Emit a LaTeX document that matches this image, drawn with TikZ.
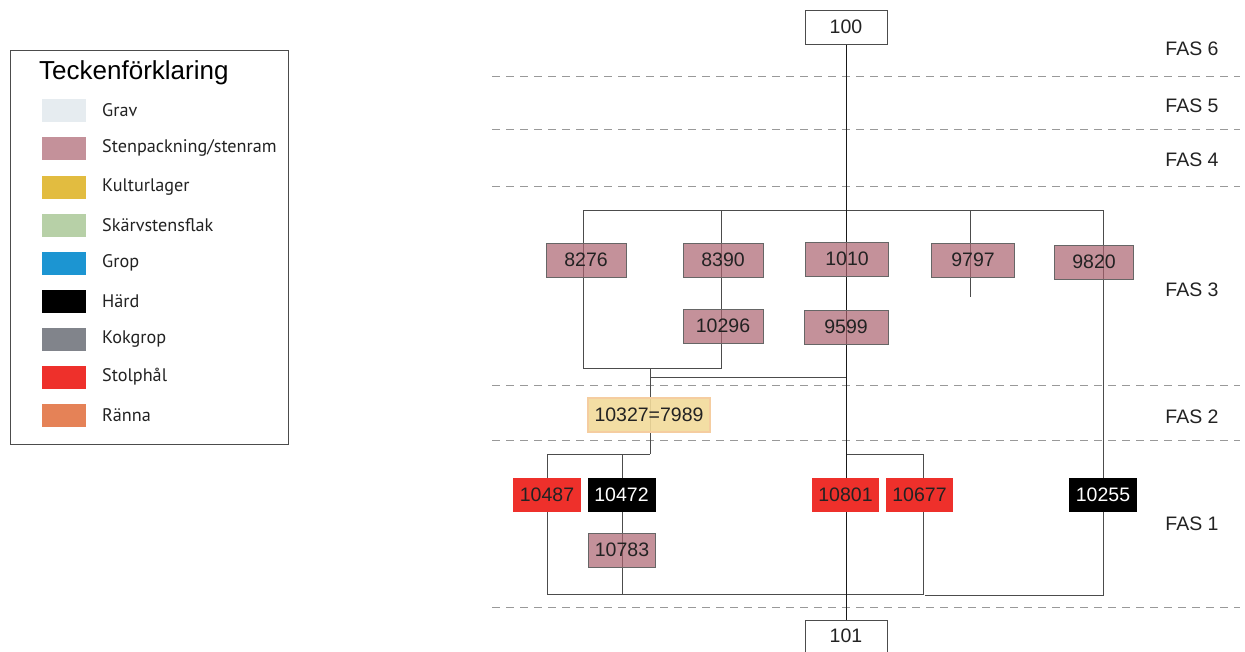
\documentclass[tikz,border=0pt]{standalone}
\usepackage{fontspec}
\setmainfont{Liberation Sans}
\newfontfamily\legfont{PT Sans}
\definecolor{pinkc}{HTML}{C4919A}
\definecolor{pinkd}{HTML}{AB626F}
\definecolor{gravc}{HTML}{E6ECF0}
\definecolor{kultc}{HTML}{E2BC40}
\definecolor{skarvc}{HTML}{B7D0A7}
\definecolor{gropc}{HTML}{1C95D2}
\definecolor{kokc}{HTML}{81848B}
\definecolor{redc}{HTML}{EE302B}
\definecolor{rannac}{HTML}{E58257}
\definecolor{yelc}{HTML}{F2DA9A}
\definecolor{yelb}{HTML}{F5CDA0}
\definecolor{txtc}{HTML}{222222}
\begin{document}
\begin{tikzpicture}[x=1pt,y=-1pt,
  conn/.style={draw=black!70,line width=1pt},
  mainln/.style={draw=black!90,line width=1pt},
  phase/.style={draw=black!40,line width=1pt,dash pattern=on 8pt off 6pt},
  base/.style={font=\fontsize{19.5}{22}\selectfont,text=txtc,inner sep=0pt,minimum height=34pt,anchor=center},
  wbox/.style={base,draw=black!70,fill=white,line width=1pt,minimum width=82pt},
  pbox/.style={base,draw=black!60,line width=1pt,fill=pinkd,fill opacity=0.7,text opacity=1,minimum width=80pt},
  ybox/.style={base,draw=yelb,line width=1.5pt,fill=yelc,fill opacity=0.9,text opacity=1,minimum width=122pt},
  rbox/.style={base,fill=redc,minimum width=68pt},
  kbox/.style={base,fill=black,text=white,minimum width=68pt},
  fas/.style={font=\fontsize{19.5}{22}\selectfont,text=txtc,anchor=center},
  swatch/.style={minimum width=44pt,minimum height=23pt,inner sep=0pt,anchor=west},
  leglab/.style={font=\legfont\fontsize{18.2}{21}\selectfont,text=txtc,anchor=west,inner sep=0pt}
]
\useasboundingbox (0,0) rectangle (1245,651);

% phase lines
\foreach \yy/\nm in {76/a,129/b,186/c,385/d,440/e,607/f}{
  \coordinate (pl\nm) at (492,\yy);
  \coordinate (pr\nm) at (1240,\yy);
  \draw[phase] (pl\nm) -- (pr\nm);
}
\node[fas] (f6) at (1192,49) {FAS 6};
\node[fas] (f5) at (1192,106) {FAS 5};
\node[fas] (f4) at (1192,160) {FAS 4};
\node[fas] (f3) at (1192,290) {FAS 3};
\node[fas] (f2) at (1192,417) {FAS 2};
\node[fas] (f1) at (1192,524) {FAS 1};

% connector coordinates
\coordinate (tL) at (583,210);
\coordinate (tM) at (721,210);
\coordinate (tS) at (970,210);
\coordinate (tR) at (1103,210);
\coordinate (sS) at (970,297);
\coordinate (bL) at (583,368);
\coordinate (bM) at (721,368);
\coordinate (m1) at (650,368);
\coordinate (m2) at (650,454);
\coordinate (h1) at (650,377);
\coordinate (h2) at (846,377);
\coordinate (lA) at (547,454);
\coordinate (lB) at (547,594);
\coordinate (cA) at (622,454);
\coordinate (cB) at (622,594);
\coordinate (rA) at (923,454);
\coordinate (rB) at (923,594);
\coordinate (mA) at (846,454);
\coordinate (eA) at (925,595);
\coordinate (eB) at (1103,595);

\node[wbox] (n100) at (846,27) {100};
\node[wbox,minimum height=32pt] (n101) at (846,636) {101};

\draw[conn] (tL) -- (tR);
\draw[conn] (tL) -- (bL) -- (bM) -- (tM);
\draw[conn] (tS) -- (sS);
\draw[conn] (m1) -- (m2);
\draw[conn] (h1) -- (h2);
\draw[conn] (m2) -- (lA) -- (lB) -- (rB) -- (rA) -- (mA);
\draw[conn] (cA) -- (cB);
\draw[conn] (eA) -- (eB) -- (tR);
\draw[mainln] (n100) -- (n101);

% nodes
\node[pbox] (n8276) at (586,260) {8276};
\node[pbox] (n8390) at (723,260) {8390};
\node[pbox,minimum width=83pt] (n1010) at (847,259) {1010};
\node[pbox] (n10296) at (723,326) {10296};
\node[pbox,minimum width=84pt] (n9599) at (846,327) {9599};
\node[pbox,minimum width=83pt] (n9797) at (973,260) {9797};
\node[pbox,minimum width=79pt] (n9820) at (1094,262) {9820};
\node[ybox] (n10327) at (649,415) {10327=7989};
\node[rbox] (n10487) at (547,495) {10487};
\node[kbox] (n10472) at (621.5,495) {10472};
\node[pbox,minimum width=67pt] (n10783) at (622,550) {10783};
\node[rbox,minimum width=67pt] (n10801) at (845.5,495) {10801};
\node[rbox,minimum width=67pt] (n10677) at (919.5,495) {10677};
\node[kbox] (n10255) at (1103,495) {10255};

% legend
\node[draw=black!70,line width=1pt,minimum width=278pt,minimum height=394pt,inner sep=0pt,anchor=north west] (leg) at (10,50) {};
\node[font=\fontsize{26}{30}\selectfont,text=black,anchor=west,inner sep=0pt] (legt) at (39,73) {Teckenförklaring};
\foreach \yy/\cc/\tt/\nm in {110/gravc/Grav/g1,148/pinkc/Stenpackning\slash stenram/g2,187/kultc/Kulturlager/g3,225/skarvc/Skärvstensflak/g4,263/gropc/Grop/g5,301/black/Härd/g6,339/kokc/Kokgrop/g7,377/redc/Stolphål/g8,415/rannac/Ränna/g9}{
  \node[swatch,fill=\cc] (s\nm) at (42,\yy) {};
  \node[leglab] (l\nm) at (102,\yy) {\tt};
}
\end{tikzpicture}
\end{document}
